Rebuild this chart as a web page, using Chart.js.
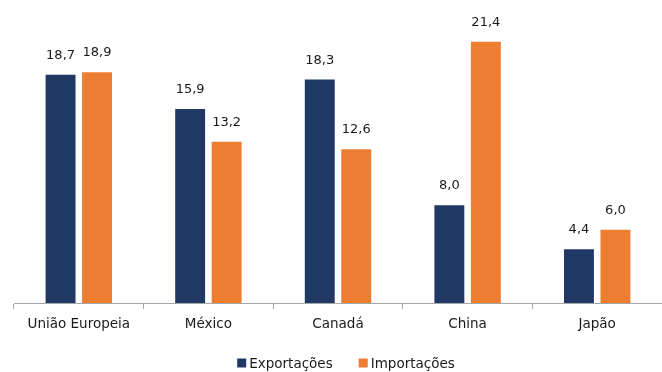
<!DOCTYPE html>
<html>
<head>
<meta charset="utf-8">
<script src="https://cdn.jsdelivr.net/npm/chart.js@4"></script>
<style>
  html, body { margin: 0; padding: 0; background: #fff; }
  #wrap { width: 662px; height: 372px; position: relative; }
</style>
</head>
<body>
<div id="wrap"><canvas id="grafico"></canvas></div>
<script>
// Dados do gráfico
const paises = ['União Europeia', 'México', 'Canadá', 'China', 'Japão'];
const exportacoes = [18.7, 15.9, 18.3, 8.0, 4.4];
const importacoes = [18.9, 13.2, 12.6, 21.4, 6.0];
const nomesSeries = ['Exportações', 'Importações'];

const AZUL = '#203864';
const LARANJA = '#ED7D31';
const FONTE = "'DejaVu Sans', Verdana, sans-serif";

// Rótulos de valor acima de cada barra
const rotulosValor = {
    id: 'rotulosValor',
    afterDatasetsDraw(chart) {
        const ctx = chart.ctx;
        ctx.save();
        ctx.font = '13px ' + FONTE;
        ctx.fillStyle = '#1a1a1a';
        ctx.textAlign = 'center';
        ctx.textBaseline = 'alphabetic';
        chart.data.datasets.forEach((ds, i) => {
            chart.getDatasetMeta(i).data.forEach((bar, j) => {
                const txt = ds.data[j].toFixed(1).replace('.', ',');
                ctx.fillText(txt, bar.x, bar.y - 16);
            });
        });
        ctx.restore();
    }
};

// Legenda desenhada à mão (quadrado colado ao texto, como no original)
const legendaBaixo = {
    id: 'legendaBaixo',
    afterDraw(chart) {
        const ctx = chart.ctx;
        ctx.save();
        ctx.font = '13.5px ' + FONTE;
        ctx.textBaseline = 'middle';
        ctx.textAlign = 'left';
        const y = 363;
        const caixa = 9, folga = 3, entre = 26;
        const itens = chart.data.datasets.map(ds => ({ txt: ds.label, cor: ds.backgroundColor }));
        let total = 0;
        itens.forEach((it, k) => {
            it.w = ctx.measureText(it.txt).width;
            total += caixa + folga + it.w + (k > 0 ? entre : 0);
        });
        let x = 346 - total / 2;
        itens.forEach(it => {
            ctx.fillStyle = it.cor;
            ctx.fillRect(x, y - caixa / 2, caixa, caixa);
            ctx.fillStyle = '#1a1a1a';
            ctx.fillText(it.txt, x + caixa + folga, y + 1);
            x += caixa + folga + it.w + entre;
        });
        ctx.restore();
    }
};

new Chart(document.getElementById('grafico'), {
    type: 'bar',
    data: {
        labels: paises,
        datasets: [
            { label: nomesSeries[0], data: exportacoes, backgroundColor: AZUL, barPercentage: 0.82, categoryPercentage: 0.563 },
            { label: nomesSeries[1], data: importacoes, backgroundColor: LARANJA, barPercentage: 0.82, categoryPercentage: 0.563 }
        ]
    },
    options: {
        responsive: true,
        maintainAspectRatio: false,
        animation: false,
        layout: { padding: { left: 14, right: 0, top: 10, bottom: 25 } },
        plugins: {
            tooltip: { enabled: false },
            legend: { display: false }
        },
        scales: {
            x: {
                offset: true,
                border: { color: '#a6a6a6', width: 1 },
                grid: { offset: true, drawOnChartArea: false, drawTicks: true, tickLength: 6, color: '#a6a6a6' },
                ticks: { color: '#1a1a1a', font: { family: FONTE, size: 13.5 }, padding: 7 },
                afterFit: (escala) => { escala.height = 44; }
            },
            y: {
                display: false,
                min: 0,
                max: 24
            }
        }
    },
    plugins: [rotulosValor, legendaBaixo]
});
</script>
</body>
</html>
